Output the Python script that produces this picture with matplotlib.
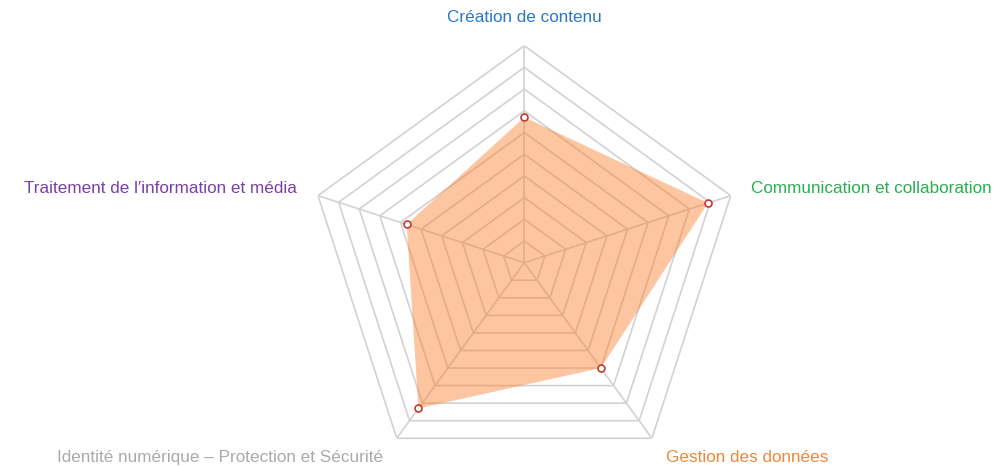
import numpy as np
import matplotlib
matplotlib.use('Agg')
import matplotlib.pyplot as plt

plt.rcParams['font.family'] = ['Liberation Sans', 'DejaVu Sans']

categories = ['Création de contenu', 'Communication et collaboration', 'Gestion des données',
              'Identité numérique – Protection et Sécurité', "Traitement de l\u2032information et média"]
values = [67, 89, 60, 83, 57]
label_colors = ['#2a78c4', '#2bae50', '#ee873a', '#aaaaaa', '#7b3fa6']
rings = np.arange(10, 101, 10)

n = len(categories)
angles = np.arange(n) * 2 * np.pi / n
closed = np.append(angles, angles[0])

fig = plt.figure(figsize=(10.06, 4.66), dpi=100)
ax = fig.add_axes([0.3055, -0.0294, 0.4314, 0.9313], projection='polar')
ax.set_theta_zero_location('N')
ax.set_theta_direction(-1)
ax.set_ylim(0, 100)
ax.axis('off')

# pentagon grid
for r in rings:
    ax.plot(closed, [r] * (n + 1), color='#d2d2d2', lw=1.2, zorder=1)
for a in angles:
    ax.plot([a, a], [0, 100], color='#d2d2d2', lw=1.2, zorder=1)

# data area
vals = values + values[:1]
ax.fill(closed, vals, color='#fb7f2c', alpha=0.45, lw=0, zorder=2)
ax.plot(angles, values, 'o', ms=5, mfc='white', mec='#c23a30', mew=1.2, zorder=3)

# axis labels
lab_r = [113, 110, 110.7, 110.7, 110]
has = ['center', 'left', 'left', 'right', 'right']
for a, r, txt, c, h in zip(angles, lab_r, categories, label_colors, has):
    ax.text(a, r, txt, color=c, fontsize=12.3, ha=h, va='center', clip_on=False)

fig.savefig('out.png', dpi=100)
